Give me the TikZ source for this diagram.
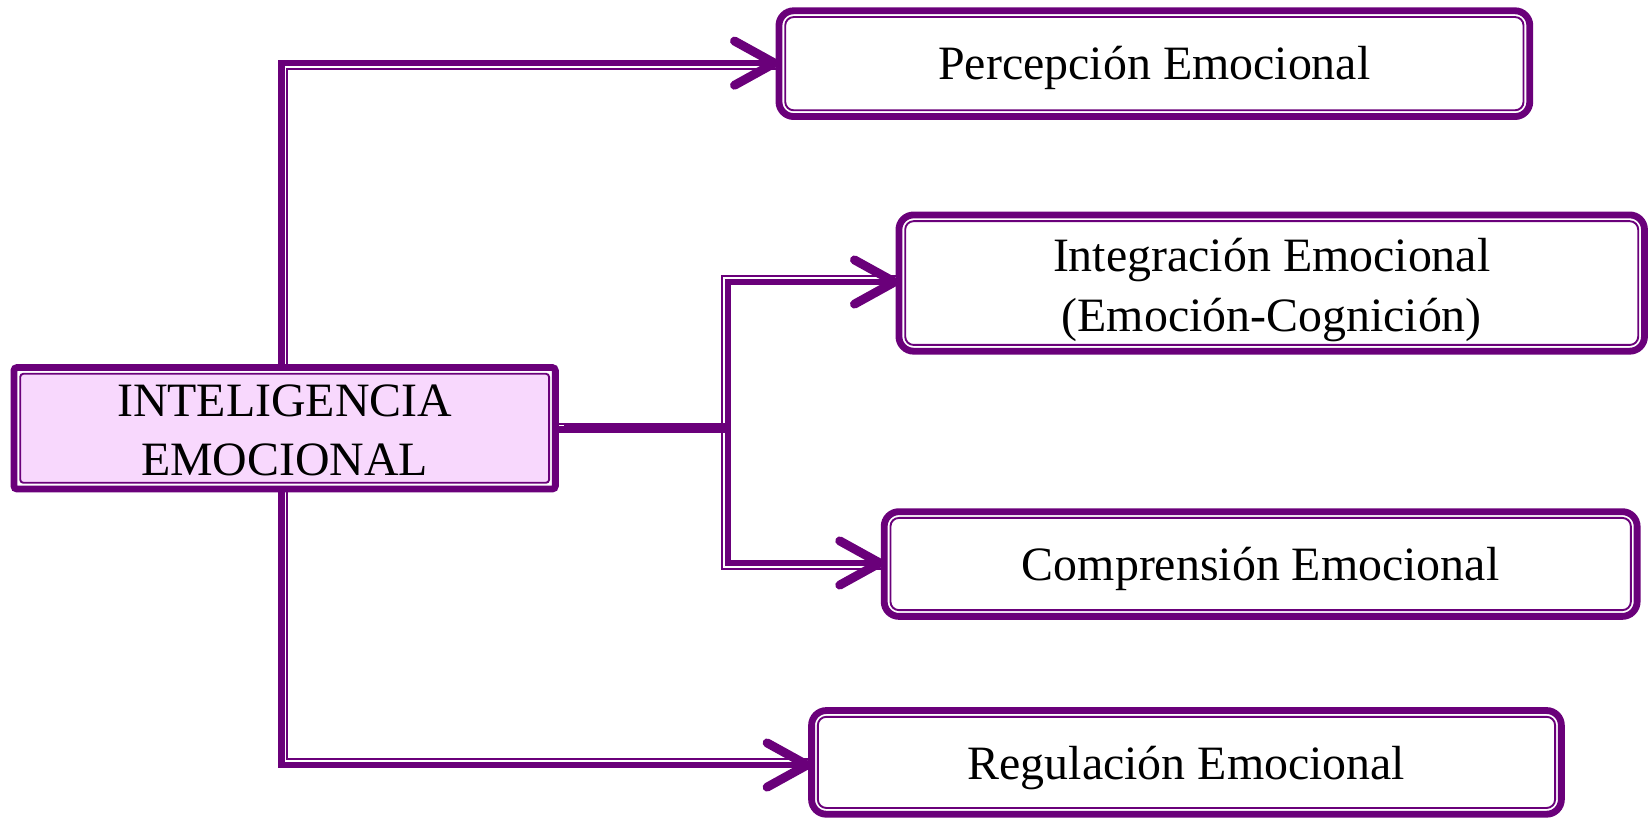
\documentclass[tikz,border=0pt]{standalone}
\usepackage{fontspec}
\setmainfont{Liberation Serif}
\usetikzlibrary{arrows.meta}

\definecolor{vio}{RGB}{106,0,122}
\definecolor{lila}{RGB}{248,216,253}

% invisible struts that fix the ascent of a first line and the descent of a last line
\newcommand\tophold[1]{\rule{0pt}{#1}}
\newcommand\bothold{\rule[-12pt]{0pt}{12pt}}

\tikzset{
  chev/.tip={Straight Barb[length=38pt,width=42pt,line width=8.5pt,round]},
  % rounded box with a thick outer and a thin inner outline
  box/.style={draw=vio, line width=6.5pt, rounded corners=14pt, fill=white,
    inner sep=0pt, outer sep=0pt, align=center,
    font=\fontsize{45.5}{56.4}\selectfont,
    path picture={\draw[vio, line width=1.8pt, rounded corners=8pt]
      ([xshift=5.95pt,yshift=-5.95pt]path picture bounding box.north west) rectangle
      ([xshift=-5.95pt,yshift=5.95pt]path picture bounding box.south east);}},
  mainbox/.style={draw=vio, line width=6.5pt, rounded corners=3pt, fill=white,
    inner sep=0pt, outer sep=0pt, align=center,
    font=\fontsize{45.5}{55.4}\selectfont,
    path picture={\draw[vio, line width=1.8pt, fill=lila]
      ([xshift=5.95pt,yshift=-5.95pt]path picture bounding box.north west) rectangle
      ([xshift=-5.95pt,yshift=5.95pt]path picture bounding box.south east);}},
  thk/.style={draw=vio, line width=6pt, line join=miter},
  thn/.style={draw=vio, line width=2pt, line join=miter},
  stub/.style={draw=vio, line width=9.5pt},
}

\begin{document}
\begin{tikzpicture}[x=1pt, y=-1pt]
\useasboundingbox (0,0) rectangle (1568,778);

\node[mainbox, minimum width=514.5pt, minimum height=115.5pt] (ie) at (270.5,407)
  {\tophold{45.4pt}INTELIGENCIA\\EMOCIONAL\bothold};

\node[box, minimum width=713.5pt, minimum height=100.5pt] (perc) at (1097,60.5)
  {\tophold{43pt}Percepción Emocional\bothold};
\node[box, minimum width=708.5pt, minimum height=129.5pt] (integ) at (1208.5,269)
  {\tophold{46.8pt}Integración Emocional\\(Emoción-Cognición)\bothold};
\node[box, minimum width=715.5pt, minimum height=99.5pt] (comp) at (1198,536)
  {\tophold{42.4pt}Comprensión Emocional\bothold};
\node[box, minimum width=712.5pt, minimum height=98.5pt] (reg) at (1127.5,724.5)
  {\tophold{45.4pt}Regulación Emocional\bothold};

\coordinate (j) at (689,407);

% upper branch
\draw[thn] ([xshift=2.5pt]ie.north) |- ([yshift=-5pt]perc.west);
\draw[thk,-chev] ([xshift=-3pt]ie.north) |- ([yshift=0.5pt]perc.west);

% lower branch
\draw[thn] ([xshift=2.5pt]ie.south) |- ([yshift=3pt]reg.west);
\draw[thk,-chev] ([xshift=-3pt]ie.south) |- ([yshift=-2.5pt]reg.west);

% middle bracket
\draw[stub] (ie.east) -- ([xshift=5.5pt]j);
\draw[white, line width=1.2pt] ([xshift=3.5pt,yshift=2.5pt]ie.east) -- ++(5,0);
\draw[thn] ([xshift=-3pt]j) |- ([yshift=6.5pt]integ.west);
\draw[thn] ([xshift=-3pt]j) |- ([yshift=-4.5pt]comp.west);
\draw[thk,-chev] ([xshift=2.5pt]j) |- ([yshift=1pt]integ.west);
\draw[thk,-chev] ([xshift=2.5pt]j) |- ([yshift=1pt]comp.west);
\end{tikzpicture}
\end{document}
